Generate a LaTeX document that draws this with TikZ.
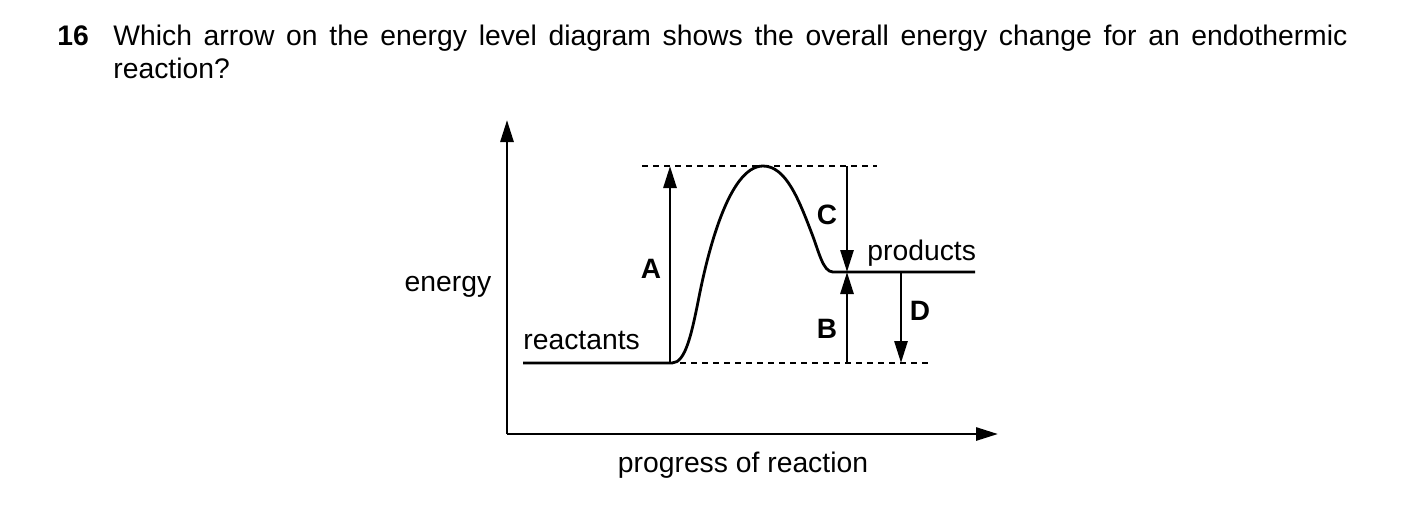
\documentclass[tikz,border=0pt]{standalone}
\usepackage{fontspec}
\setmainfont{Liberation Sans}
\usetikzlibrary{arrows.meta}
\begin{document}
\begin{tikzpicture}[x=0.5pt,y=-0.5pt,
  txt/.style={font=\fontsize{14.15pt}{17pt}\selectfont, inner sep=0pt},
  lbl/.style={font=\fontsize{14pt}{17pt}\selectfont\bfseries, inner sep=0pt},
  ln/.style={line width=1.4pt},
  arr/.style={line width=1.4pt, -{Triangle[length=11pt,width=6.5pt]}},
  dsh/.style={line width=0.7pt, dash pattern=on 3pt off 2.5pt}]
\useasboundingbox (0,0) rectangle (1403,527);
% title
\node[txt, anchor=base west, font=\fontsize{14.15pt}{17pt}\selectfont\bfseries] (num) at (57,45) {16};
\node[txt, anchor=base west] (q1) at (113,45) {\makebox[617pt][s]{Which arrow on the energy level diagram shows the overall energy change for an endothermic}};
\node[txt, anchor=base west] (q2) at (113,78) {reaction?};
% axes
\coordinate (o) at (507,434);
\coordinate (ytop) at (507,120);
\coordinate (xend) at (998,434);
\draw[arr] (o) -- (ytop);
\draw[arr] (o) -- (xend);
\node[txt, anchor=base] (ylab) at (448,291) {energy};
\node[txt, anchor=base] (xlab) at (743,472) {progress of reaction};
% levels
\coordinate (r0) at (523,363);
\coordinate (r1) at (672,363);
\coordinate (pk) at (763,166);
\coordinate (p0) at (833,272);
\coordinate (p1) at (975,272);
\draw[ln, line join=round] (r0) -- (r1)
  .. controls (686,363) and (692,332) .. (700,292)
  .. controls (707,258) and (728,166) .. (pk)
  .. controls (786,166) and (799,200) .. (812,234)
  .. controls (819,252) and (823,272) .. (p0) -- (p1);
\node[txt, anchor=base west] (reac) at (523,349) {reactants};
\node[txt, anchor=base west] (prod) at (867,260) {products};
% dashed lines
\coordinate (dt0) at (642,166);
\coordinate (dt1) at (877,166);
\coordinate (db0) at (680,363);
\coordinate (db1) at (930,363);
\draw[dsh] (dt0) -- (dt1);
\draw[dsh] (db0) -- (db1);
% arrows
\coordinate (a0) at (670,363);
\coordinate (a1) at (670,166);
\coordinate (c0) at (847,166);
\coordinate (c1) at (847,272);
\coordinate (b0) at (847,363);
\coordinate (d0) at (901,272);
\coordinate (d1) at (901,363);
\draw[arr] (a0) -- (a1);
\draw[arr] (c0) -- (c1);
\draw[arr] (b0) -- (c1);
\draw[arr] (d0) -- (d1);
\node[lbl, anchor=base] (la) at (651,278) {A};
\node[lbl, anchor=base] (lc) at (827,224) {C};
\node[lbl, anchor=base] (lb) at (827,338) {B};
\node[lbl, anchor=base] (ld) at (920,320) {D};
\end{tikzpicture}
\end{document}
